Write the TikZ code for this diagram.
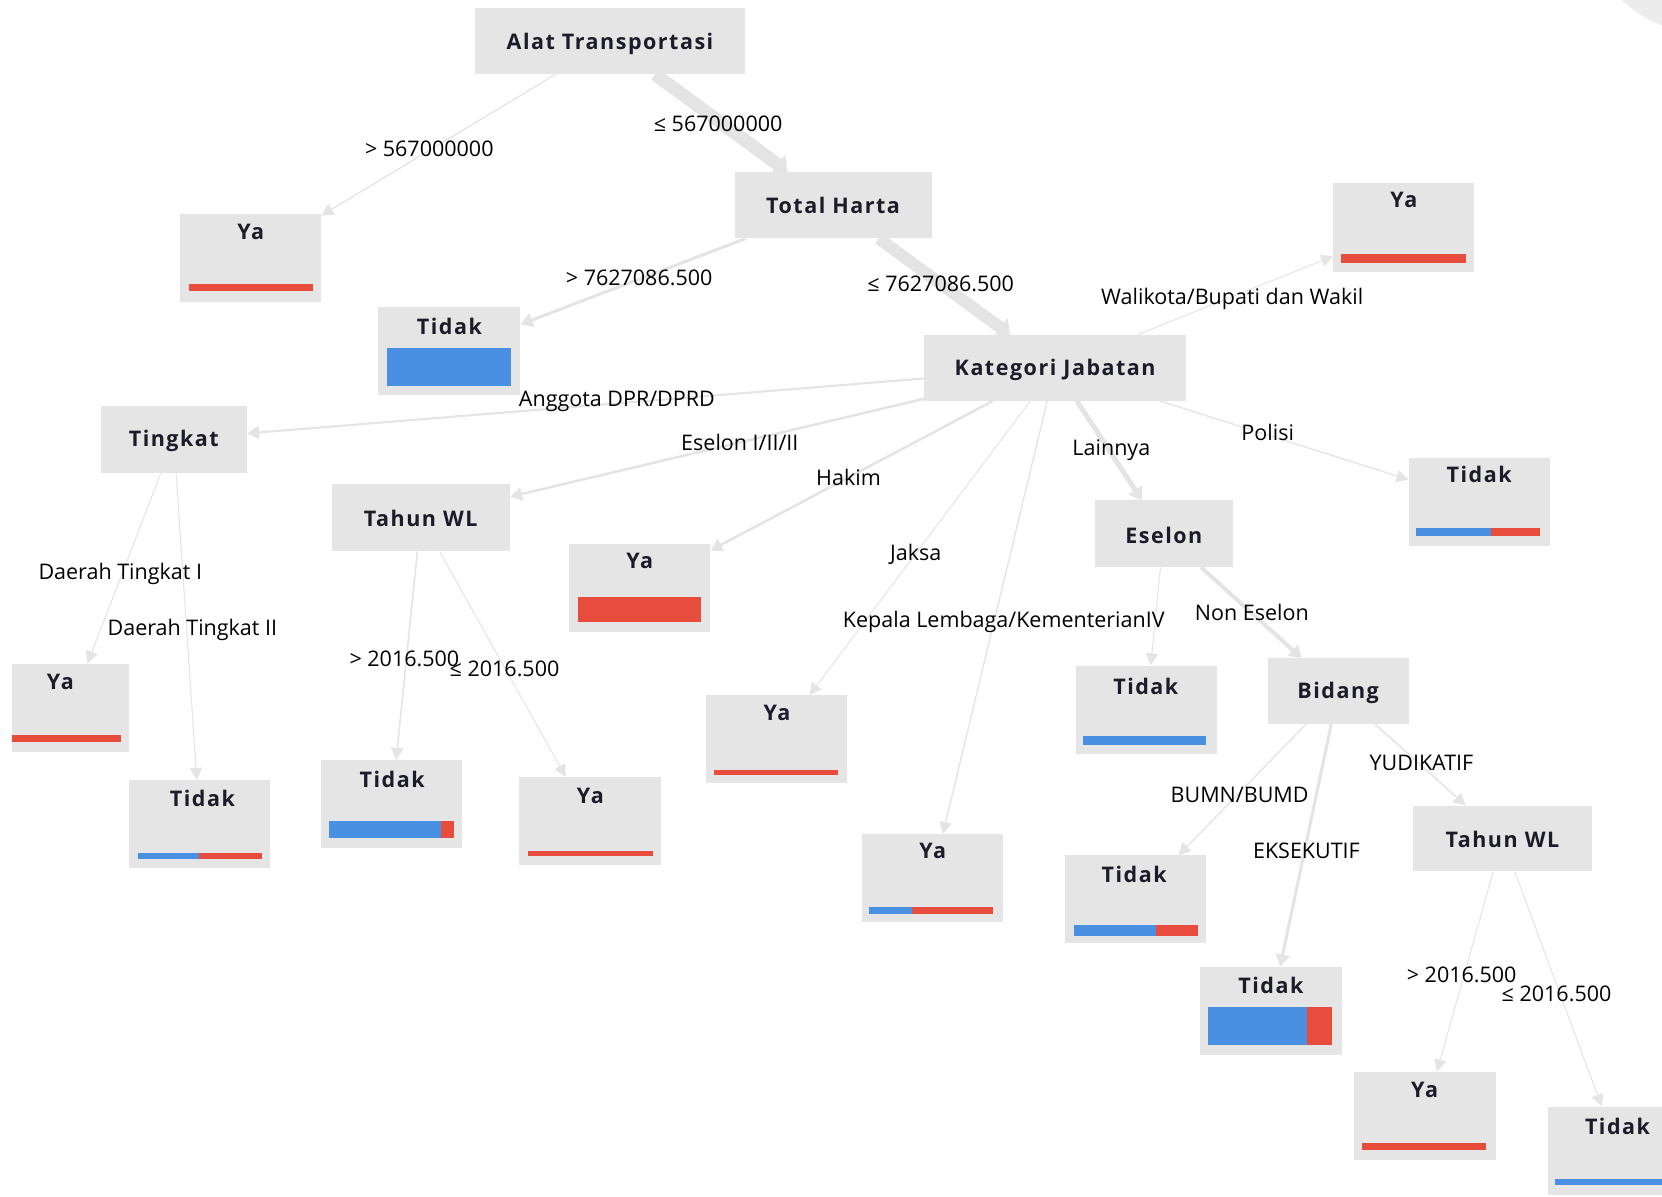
\documentclass[tikz,border=0pt]{standalone}
\usepackage{fontspec}
\setmainfont{Open Sans}
\newfontfamily\tfont[LetterSpace=7]{Open Sans}
\usetikzlibrary{arrows.meta,fit}
\definecolor{boxgray}{RGB}{229,229,229}
\definecolor{edgegray}{RGB}{228,228,228}
\definecolor{circgray}{RGB}{236,236,236}
\definecolor{barred}{RGB}{231,76,60}
\definecolor{barblue}{RGB}{74,144,226}
\definecolor{txt}{RGB}{28,28,40}
\tikzset{
  box/.style={fill=boxgray, inner sep=0pt, draw=none},
  ttl/.style={font=\tfont\bfseries\fontsize{21.5}{26}\selectfont, text=txt, inner sep=0pt},
  lbl/.style={font=\fontsize{21.5}{25}\selectfont, text=black, inner sep=0pt},
  conn/.style={draw=edgegray, -{Triangle[length=12pt,width=11pt 1]}, line width=#1},
  conn/.default=1pt
}
\begin{document}
\begin{tikzpicture}[x=1.059949pt,y=-1.059949pt]
\useasboundingbox (0,0) rectangle (1568,1129.3);
\fill[white] (0,0) rectangle (1568,1129.3);
\clip (0,0) rectangle (1568,1129.3);
\fill[circgray] (1604,-75.5) circle [radius=112pt];
% internal nodes
\node[box, fit={(448,8) (703,70)}] (alat) {};
\node[ttl] (alatT) at (575.5,41) {Alat Transportasi};
\node[box, fit={(693,162) (879,225)}] (harta) {};
\node[ttl] (hartaT) at (786,194) {Total Harta};
\node[box, fit={(872,316) (1119,378)}] (kat) {};
\node[ttl] (katT) at (995.5,349) {Kategori Jabatan};
\node[box, fit={(95,383) (233,446)}] (ting) {};
\node[ttl] (tingT) at (164,416) {Tingkat};
\node[box, fit={(313,457) (481,520)}] (twl) {};
\node[ttl] (twlT) at (397,489) {Tahun WL};
\node[box, fit={(1033,472) (1163,535)}] (esl) {};
\node[ttl] (eslT) at (1098,505) {Eselon};
\node[box, fit={(1196,621) (1329,683)}] (bid) {};
\node[ttl] (bidT) at (1262.5,654) {Bidang};
\node[box, fit={(1333,760) (1502,822)}] (twlb) {};
\node[ttl] (twlbT) at (1417.5,792) {Tahun WL};
% leaves
\node[box, fit={(170,202) (303,285)}] (yaA) {};
\node[ttl] (yaAT) at (236.5,219) {Ya};
\fill[barred] (178,268) rectangle (295,275);
\node[box, fit={(357,290) (491,373)}] (tdA) {};
\node[ttl] (tdAT) at (424,308) {Tidak};
\fill[barblue] (365,328) rectangle (482,364);
\node[box, fit={(1258,173) (1391,257)}] (yaW) {};
\node[ttl] (yaWT) at (1324.5,189) {Ya};
\fill[barred] (1265,240) rectangle (1383,248);
\node[box, fit={(537,513) (670,596)}] (yaH) {};
\node[ttl] (yaHT) at (603.5,529) {Ya};
\fill[barred] (545,563) rectangle (661,587);
\node[box, fit={(1329,432) (1462,515)}] (tdP) {};
\node[ttl] (tdPT) at (1395.5,448) {Tidak};
\fill[barblue] (1336,498) rectangle (1407,506);
\fill[barred] (1407,498) rectangle (1453,506);
\node[box, fit={(11,626) (122,709)}] (yaD) {};
\node[ttl] (yaDT) at (57,643) {Ya};
\fill[barred] (11,693) rectangle (114,700);
\node[box, fit={(122,736) (255,819)}] (tdD) {};
\node[ttl] (tdDT) at (191,753) {Tidak};
\fill[barblue] (130,805) rectangle (188,810);
\fill[barred] (188,805) rectangle (247,810);
\node[box, fit={(303,717) (436,800)}] (tdT) {};
\node[ttl] (tdTT) at (370,735) {Tidak};
\fill[barblue] (310,775) rectangle (416,791);
\fill[barred] (416,775) rectangle (428,791);
\node[box, fit={(490,733) (624,816)}] (yaT) {};
\node[ttl] (yaTT) at (557,751) {Ya};
\fill[barred] (498,803) rectangle (616,808);
\node[box, fit={(666,656) (799,739)}] (yaJ) {};
\node[ttl] (yaJT) at (733,673) {Ya};
\fill[barred] (674,726) rectangle (791,731);
\node[box, fit={(813,787) (946,870)}] (yaK) {};
\node[ttl] (yaKT) at (880,803) {Ya};
\fill[barblue] (820,856) rectangle (860,862);
\fill[barred] (860,856) rectangle (937,862);
\node[box, fit={(1015,628) (1148,711)}] (tdE) {};
\node[ttl] (tdET) at (1081,648) {Tidak};
\fill[barblue] (1022,694) rectangle (1138,703);
\node[box, fit={(1005,807) (1138,890)}] (tdB) {};
\node[ttl] (tdBT) at (1070,825) {Tidak};
\fill[barblue] (1013,873) rectangle (1091,883);
\fill[barred] (1091,873) rectangle (1130,883);
\node[box, fit={(1132,912) (1266,995)}] (tdX) {};
\node[ttl] (tdXT) at (1199,930) {Tidak};
\fill[barblue] (1140,950) rectangle (1233,986);
\fill[barred] (1233,950) rectangle (1257,986);
\node[box, fit={(1277,1011) (1411,1094)}] (yaR) {};
\node[ttl] (yaRT) at (1344,1028) {Ya};
\fill[barred] (1285,1078) rectangle (1402,1085);
\node[box, fit={(1460,1044) (1593,1127)}] (tdR) {};
\node[ttl] (tdRT) at (1526,1063) {Tidak};
\fill[barblue] (1467,1112) rectangle (1585,1118);
% connectors
\draw[conn=1.2pt] (alat) -- (yaA);
\draw[conn=13pt] (alat) -- (harta);
\draw[conn=3pt] (harta) -- (tdA);
\draw[conn=12pt] (harta) -- (kat);
\draw[conn=1pt] (kat) -- (yaW);
\draw[conn=2pt] (kat) -- (ting);
\draw[conn=2.5pt] (kat) -- (twl);
\draw[conn=2.5pt] (kat) -- (yaH);
\draw[conn=1pt] (kat) -- (yaJ);
\draw[conn=1.3pt] (kat) -- (yaK);
\draw[conn=5pt] (kat) -- (esl);
\draw[conn=1.3pt] (kat) -- (tdP);
\draw[conn=1pt] (ting) -- (yaD);
\draw[conn=1pt] (ting) -- (tdD);
\draw[conn=1.5pt] (twl) -- (tdT);
\draw[conn=1pt] (twl) -- (yaT);
\draw[conn=1pt] (esl) -- (tdE);
\draw[conn=4pt] (esl) -- (bid);
\draw[conn=1.3pt] (bid) -- (tdB);
\draw[conn=3pt] (bid) -- (tdX);
\draw[conn=1.5pt] (bid) -- (twlb);
\draw[conn=1pt] (twlb) -- (yaR);
\draw[conn=1pt] (twlb) -- (tdR);
% labels
\node[lbl] (l1) at (405,140) {> 567000000};
\node[lbl] (l2) at (677.5,117) {≤ 567000000};
\node[lbl] (l3) at (603,262) {> 7627086.500};
\node[lbl] (l4) at (887.5,268) {≤ 7627086.500};
\node[lbl] (l5) at (1162.5,282) {Walikota/Bupati dan Wakil};
\node[lbl] (l6) at (582,379) {Anggota DPR/DPRD};
\node[lbl] (l7) at (698,417) {Eselon I/II/II};
\node[lbl] (l8) at (800.5,450) {Hakim};
\node[lbl] (l9) at (864,523) {Jaksa};
\node[lbl] (l10) at (1048.5,425) {Lainnya};
\node[lbl] (l11) at (1196,408) {Polisi};
\node[lbl] (l12) at (113.5,541) {Daerah Tingkat I};
\node[lbl] (l13) at (181.5,594) {Daerah Tingkat II};
\node[lbl] (l14) at (381.5,622) {> 2016.500};
\node[lbl] (l15) at (476,631) {≤ 2016.500};
\node[lbl] (l16) at (947,587) {Kepala Lembaga/KementerianIV};
\node[lbl] (l17) at (1181,578) {Non Eselon};
\node[lbl, anchor=west] (l18) at (1292,720) {YUDIKATIF};
\node[lbl] (l19) at (1169.5,750) {BUMN/BUMD};
\node[lbl, anchor=west] (l20) at (1182,803) {EKSEKUTIF};
\node[lbl] (l21) at (1379,920) {> 2016.500};
\node[lbl] (l22) at (1468.5,938) {≤ 2016.500};
\end{tikzpicture}
\end{document}
